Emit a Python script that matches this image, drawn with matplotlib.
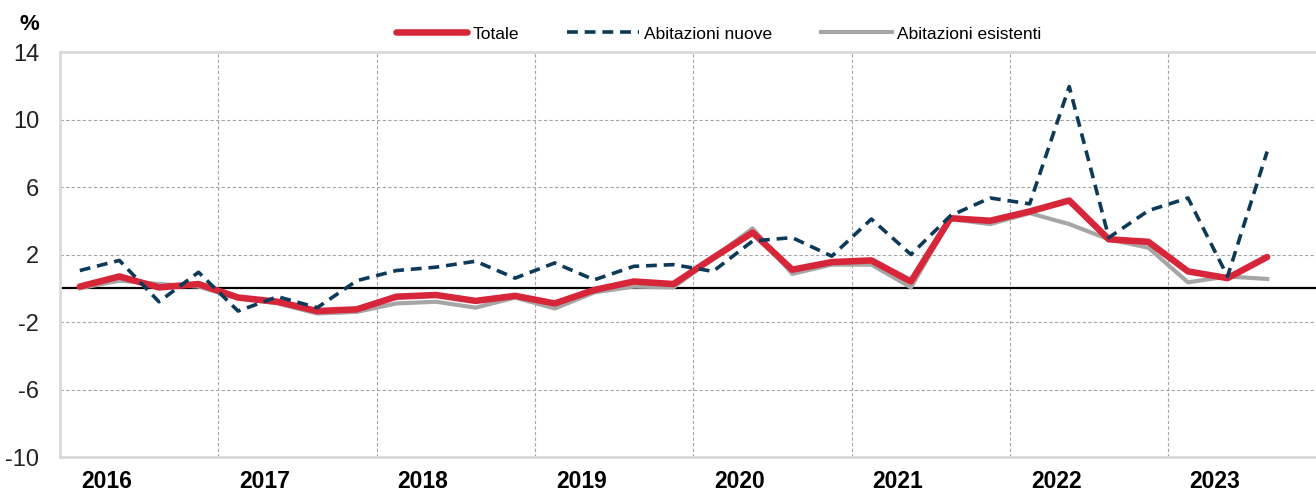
import numpy as np
import matplotlib
matplotlib.use("Agg")
import matplotlib.pyplot as plt

plt.rcParams['font.family'] = ['Liberation Sans Narrow', 'Liberation Sans', 'DejaVu Sans']

# quarterly data, 2016Q1 - 2023Q3 (%)
years = ['2016', '2017', '2018', '2019', '2020', '2021', '2022', '2023']
totale = [0.1, 0.7, 0.05, 0.25, -0.55, -0.8, -1.35, -1.25, -0.5, -0.4,
          -0.75, -0.45, -0.9, -0.1, 0.4, 0.25, 1.8, 3.3, 1.1, 1.55,
          1.65, 0.4, 4.15, 4.0, 4.55, 5.2, 2.9, 2.75, 1.0, 0.6, 1.85]
nuove = [1.05, 1.65, -0.8, 0.95, -1.35, -0.5, -1.15, 0.45, 1.05, 1.25,
         1.6, 0.6, 1.5, 0.5, 1.3, 1.4, 1.0, 2.8, 3.0, 1.9,
         4.1, 2.0, 4.3, 5.35, 5.0, 11.95, 3.0, 4.6, 5.35, 0.7, 8.1]
esistenti = [0.0, 0.45, 0.25, 0.1, -0.6, -0.9, -1.5, -1.4, -0.9, -0.8,
             -1.15, -0.55, -1.2, -0.25, 0.1, 0.05, 1.8, 3.55, 0.85, 1.4,
             1.4, 0.05, 4.1, 3.8, 4.45, 3.8, 2.9, 2.4, 0.35, 0.7, 0.55]
yticks = [-10, -6, -2, 2, 6, 10, 14]

x = np.arange(len(totale))

fig = plt.figure(figsize=(13.16, 4.94), dpi=100)
fig.patch.set_facecolor('#FFFFFF')
# plot area runs past the right edge of the picture (as in the original)
ax = fig.add_axes([60 / 1316, 37 / 494, 1266.5 / 1316, 405 / 494])

ax.plot(x, esistenti, color='#a6a6a6', linewidth=3.0, label='Abitazioni esistenti', zorder=3)
ax.plot(x, totale, color='#d7263a', linewidth=4.7, label='Totale', zorder=4,
        solid_capstyle='round')
ax.plot(x, nuove, color='#0c3a58', linewidth=2.6, linestyle=(0, (3.0, 1.9)),
        label='Abitazioni nuove', zorder=5)
ax.axhline(0, color='black', linewidth=1.6, zorder=2)

ax.set_xlim(-0.5, 4 * len(years) - 0.5)
ax.set_ylim(-10, 14)

#y axis
ax.set_yticks(yticks)
ax.set_yticklabels([str(v) for v in yticks])
ax.tick_params(axis='y', length=0, pad=15, labelsize=17, labelcolor='#222222')

#x axis: year labels, grid at year boundaries
ax.set_xticks([4 * k + 0.67 for k in range(len(years))])
ax.set_xticklabels(years, fontweight='bold')
ax.tick_params(axis='x', which='major', length=0, pad=9, labelsize=16.5)
ax.set_xticks([4 * k - 0.5 for k in range(1, len(years))], minor=True)
ax.tick_params(axis='x', which='minor', length=0)

ax.grid(axis='y', which='major', color='#a6a6a6', linestyle=(0, (3, 2)), linewidth=0.8)
ax.grid(axis='x', which='minor', color='#a6a6a6', linestyle=(0, (3, 2)), linewidth=0.8)
ax.grid(axis='x', which='major', visible=False)

for s in ax.spines.values():
    s.set_color('#d9d9d9')
    s.set_linewidth(2)

fig.text(29 / 1316, 1 - 24 / 494, '%', fontsize=16, fontweight='bold', ha='center', va='center')

handles, labels = ax.get_legend_handles_labels()
order = [1, 2, 0]
fig.legend([handles[i] for i in order], [labels[i] for i in order],
           loc='center', bbox_to_anchor=(0.546, 1 - 34 / 494), ncol=3, frameon=False,
           fontsize=12.5, handlelength=4.1, handletextpad=0.3, columnspacing=2.8)

fig.savefig('out.png', dpi=100)
